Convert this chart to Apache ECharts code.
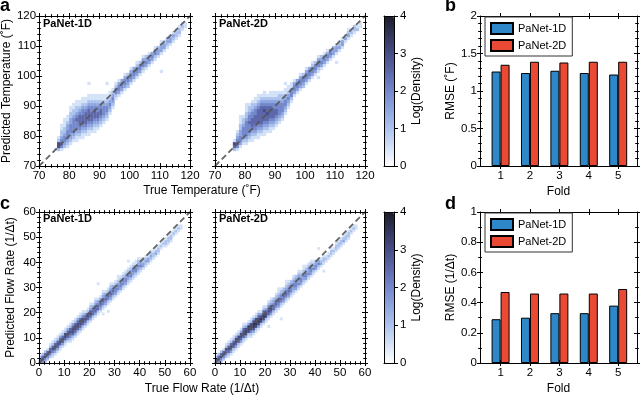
<!DOCTYPE html>
<html><head><meta charset="utf-8">
<script src="https://cdn.jsdelivr.net/npm/echarts@6/dist/echarts.min.js"></script>
<style>html,body{margin:0;padding:0;background:#fff}#c{width:640px;height:396px}</style>
</head><body><div id="c"></div>
<script>
// ---------- DATA ----------
// density cells: [x bin, first y bin, digits upward]; digit = 2*log10(density), 0 = empty
const tempCols1D = [
 [75,75,"1"],[76,75,"26621"],[77,75,"145432211"],[78,76,"2344322111"],[79,76,"12344433211"],
 [80,77,"1233444332211"],[81,78,"1234444432211"],[82,78,"11234445432211"],[83,79,"1234455543211"],
 [84,79,"11234555443211"],[85,80,"1234555543211"],[86,80,"11234555543211"],[87,81,"1234555443211"],
 [88,81,"1123455543211"],[89,82,"123455443211"],[90,83,"12345543211"],[91,84,"1234443211"],
 [92,85,"123443211"],[93,87,"12343211"],[94,89,"1234321"],[95,92,"124421"],[96,93,"134431"],
 [97,94,"13443"],[98,95,"134431"],[99,96,"23442"],[100,97,"134431"],[101,98,"13443"],[102,99,"134421"],
 [103,100,"13442"],[104,101,"124431"],[105,102,"13432"],[106,103,"13431"],[107,104,"1343"],
 [108,105,"12431"],[109,106,"1332"],[110,107,"13321"],[111,108,"1331"],[112,109,"1232"],
 [113,110,"1331"],[114,111,"1231"],[115,112,"1221"],[116,113,"1221"],[117,115,"121"],[118,116,"11"],
 [110,101,"1"],[86,97,"1"],[92,97,"1"],[102,104,"1"]
];
const tempCols2D = [
 [76,75,"2561"],[77,75,"1454321"],[78,76,"13443322111"],[79,77,"1234443221"],[80,77,"12344444322111"],
 [81,78,"1234445443221"],[82,78,"11234555443221"],[83,79,"12344555443211"],[84,79,"112345555543211"],
 [85,80,"12345555554321"],[86,80,"112345556543211"],[87,81,"1234556554321"],[88,81,"11234555543211"],
 [89,82,"1234555443211"],[90,83,"123455443211"],[91,84,"12344443221"],[92,85,"1234443221"],
 [93,87,"123443211"],[94,89,"12343211"],[95,91,"1244311"],[96,93,"134431"],[97,94,"13443"],
 [98,95,"134431"],[99,96,"23442"],[100,97,"134431"],[101,98,"13443"],[102,99,"134421"],
 [103,100,"13442"],[104,101,"124431"],[105,102,"13432"],[106,103,"13431"],[107,104,"13431"],
 [108,105,"1343"],[109,106,"1332"],[110,107,"1331"],[111,108,"1321"],[112,109,"1331"],[113,111,"131"],
 [114,112,"1321"],[115,113,"121"],[116,114,"122"],[117,115,"21"],[118,116,"11"],
 [110,104,"1"],[104,99,"1"],[86,94,"1"],[93,97,"1"],[107,108,"1"]
];
const flowCols1D = [
 [0,0,"552"],[1,0,"4652"],[2,0,"24652"],[3,1,"24651"],[4,2,"246521"],[5,2,"1246521"],[6,3,"1356521"],
 [7,4,"1356521"],[8,5,"1256531"],[9,6,"1356521"],[10,7,"1256621"],[11,8,"1356531"],[12,8,"12456521"],
 [13,9,"12566531"],[14,10,"13566521"],[15,11,"12566531"],[16,12,"13566521"],[17,13,"12566421"],
 [18,14,"1356531"],[19,15,"1256521"],[20,16,"13565321"],[21,17,"1255431"],[22,18,"13554321"],
 [23,19,"1255431"],[24,20,"1345431"],[25,21,"12454321"],[26,22,"1345431"],[27,23,"1245421"],
 [28,24,"13454321"],[29,25,"1245431"],[30,26,"1344321"],[31,27,"12443211"],[32,28,"1344321"],
 [33,29,"1244321"],[34,30,"1344321"],[35,31,"1234321"],[36,32,"1244321"],[37,33,"1234421"],
 [38,34,"1244311"],[39,35,"1234321"],[40,36,"124321"],[41,37,"13321"],[42,38,"12321"],[43,39,"1331"],
 [44,40,"12321"],[45,41,"1221"],[46,42,"1321"],[47,43,"1221"],[48,45,"121"],[49,46,"121"],
 [50,46,"1221"],[51,47,"1221"],[52,48,"1221"],[53,50,"121"],[54,51,"121"],[55,52,"121"],[56,53,"11"],
 [23,31,"1"],[25,19,"1"],[35,40,"1"],[27,20,"1"]
];
const flowCols2D = [
 [0,0,"562"],[1,0,"4652"],[2,0,"24652"],[3,1,"24651"],[4,2,"245621"],[5,2,"1256521"],[6,3,"1356521"],
 [7,4,"1256521"],[8,5,"1356631"],[9,6,"1256621"],[10,7,"1356631"],[11,8,"12566521"],[12,9,"1367631"],
 [13,10,"1267731"],[14,10,"12467621"],[15,11,"13677631"],[16,12,"12677621"],[17,13,"13677531"],
 [18,14,"1267631"],[19,15,"13676521"],[20,16,"1266531"],[21,17,"12565421"],[22,18,"13565321"],
 [23,19,"1255432"],[24,20,"12454321"],[25,21,"134543211"],[26,22,"12454321"],[27,23,"1345432"],
 [28,24,"124543211"],[29,25,"13454321"],[30,26,"1244432"],[31,27,"12344321"],[32,28,"1344432"],
 [33,29,"12434321"],[34,30,"1344321"],[35,31,"12343211"],[36,32,"1344321"],[37,33,"1243321"],
 [38,34,"1344321"],[39,35,"124321"],[40,36,"13432"],[41,37,"12431"],[42,38,"1321"],[43,39,"1221"],
 [44,40,"121"],[45,41,"121"],[46,42,"1221"],[47,43,"121"],[48,44,"1221"],[49,45,"1221"],[50,46,"1221"],
 [51,47,"1321"],[52,48,"1221"],[53,49,"1221"],[54,51,"121"],[55,52,"121"],[56,53,"11"],
 [26,17,"1"],[41,45,"1"],[43,36,"1"],[21,14,"1"]
];
const tempRange = [70, 120];
const flowRange = [0, 60];
const folds = [1, 2, 3, 4, 5];
const rmseTemp1D = [1.26, 1.24, 1.27, 1.24, 1.22];
const rmseTemp2D = [1.35, 1.39, 1.38, 1.39, 1.39];
const rmseFlow1D = [0.29, 0.30, 0.33, 0.33, 0.38];
const rmseFlow2D = [0.47, 0.46, 0.46, 0.46, 0.49];
const seriesNames = ['PaNet-1D', 'PaNet-2D'];

// ---------- BUILD ----------
const F = '"Liberation Sans", Arial, Helvetica, sans-serif';
function cells(cols) {
  const out = [];
  for (const [x, y0, s] of cols) for (let i = 0; i < s.length; i++) {
    const d = +s[i]; if (d > 0) out.push([x + 0.5, y0 + i + 0.5, d / 2]);
  }
  return out;
}
const grids = [], xAxes = [], yAxes = [];
function axis(g, c, pos, inside, line, isX) {
  const labelPos = c.labelPos === undefined ? (isX ? 'bottom' : 'left') : c.labelPos;
  const showLabel = !inside && pos === labelPos;
  const a = {
    type: 'value', gridIndex: g, position: pos, min: c.min, max: c.max, z: 10,
    splitLine: {show: false},
    axisLine: {show: line, onZero: false, lineStyle: {color: '#000', width: 1}},
    axisTick: {show: true, inside: inside, length: 3, lineStyle: {color: '#000', width: 1}},
    minorTick: {show: !!c.minor, splitNumber: c.minor || 5, length: 1.8, lineStyle: {color: '#000', width: 1}},
    axisLabel: {show: showLabel, color: '#000', fontFamily: F, fontSize: 11.5, margin: isX ? 4 : 3},
  };
  if (c.interval !== undefined) a.interval = c.interval;
  if (c.custom) { a.axisTick.customValues = c.custom; a.axisLabel.customValues = c.custom; }
  if (showLabel && c.name) {
    a.name = c.name; a.nameLocation = 'middle'; a.nameGap = c.nameGap;
    a.nameTextStyle = {fontFamily: F, fontSize: 12, color: '#000'};
  }
  return a;
}
function box(rect, xc, yc) {
  const g = grids.length;
  grids.push({left: rect[0], top: rect[1], width: rect[2], height: rect[3]});
  const xi = xAxes.length, yi = yAxes.length;
  const specs = [[0, false, true], [0, true, false], [1, false, true], [1, true, false]];
  for (const [side, inside, line] of specs) {
    xAxes.push(axis(g, xc, side ? 'top' : 'bottom', inside, line, true));
    yAxes.push(axis(g, yc, side ? 'right' : 'left', inside, line, false));
  }
  return {x: xi, y: yi};
}
const tX = {min: tempRange[0], max: tempRange[1], interval: 10, minor: 5};
const fX = {min: flowRange[0], max: flowRange[1], interval: 10, minor: 5};
const A1 = box([39, 16, 151, 150], tX, Object.assign({}, tX, {name: 'Predicted Temperature (˚F)', nameGap: 21}));
const A2 = box([215, 16, 150, 150], tX, Object.assign({}, tX, {labelPos: 'none'}));
const B = box([480, 16, 157, 150], {min: 0.3, max: 5.64, custom: folds, name: 'Fold', nameGap: 20},
  {min: 0, max: 2, interval: 0.5, minor: 5, name: 'RMSE (˚F)', nameGap: 23});
const C1 = box([39, 212, 151, 151], fX, Object.assign({}, fX, {name: 'Predicted Flow Rate (1/Δt)', nameGap: 22}));
const C2 = box([215, 212, 150, 151], fX, Object.assign({}, fX, {labelPos: 'none'}));
const D = box([480, 212, 157, 151], {min: 0.3, max: 5.64, custom: folds, name: 'Fold', nameGap: 20},
  {min: 0, max: 1, interval: 0.2, minor: 2, name: 'RMSE (1/Δt)', nameGap: 22});

// colorbars
function colorbar(top, h) {
  const g = grids.length;
  grids.push({left: 384, top: top, width: 10, height: h});
  for (const pos of ['bottom', 'top']) xAxes.push({type: 'value', gridIndex: g, position: pos, min: 0, max: 1, z: 10,
    splitLine: {show: false}, axisTick: {show: false}, axisLabel: {show: false},
    axisLine: {show: true, onZero: false, lineStyle: {color: '#000', width: 1}}});
  yAxes.push({type: 'value', gridIndex: g, position: 'left', min: 0, max: 4, interval: 1, z: 10,
    splitLine: {show: false}, axisTick: {show: false}, axisLabel: {show: false},
    axisLine: {show: true, onZero: false, lineStyle: {color: '#000', width: 1}}});
  yAxes.push({type: 'value', gridIndex: g, position: 'right', min: 0, max: 4, interval: 1, z: 10,
    splitLine: {show: false}, axisTick: {show: true, length: 4, lineStyle: {color: '#000'}},
    axisLabel: {show: true, margin: 6, color: '#000', fontFamily: F, fontSize: 11.5},
    axisLine: {show: true, onZero: false, lineStyle: {color: '#000', width: 1}},
    name: 'Log(Density)', nameLocation: 'middle', nameGap: 17,
    nameTextStyle: {fontFamily: F, fontSize: 12, color: '#000'}});
}
colorbar(16, 150);
colorbar(212, 151);

const cmap = ['#ffffff', '#d4e2f7', '#adc3ed', '#8ea6e0', '#7488cb', '#5d68aa', '#474d86', '#32355b', '#1c1c26'];
const heat = (P, cols, size) => ({type: 'scatter', xAxisIndex: P.x, yAxisIndex: P.y, symbol: 'rect',
  symbolSize: size, data: cells(cols), silent: true, z: 2, itemStyle: {opacity: 1}});
const diag = (P, r) => ({type: 'line', xAxisIndex: P.x, yAxisIndex: P.y, data: [[r[0], r[0]], [r[1], r[1]]],
  symbol: 'none', silent: true, z: 3, lineStyle: {color: '#555', width: 1.8, type: [6, 3.5], opacity: 0.9}});
const colors = ['#2d87c8', '#ea4a33'];
const bar = (P, name, vals, ci) => ({type: 'bar', name: name, xAxisIndex: P.x, yAxisIndex: P.y,
  data: folds.map((f, i) => [f, vals[i]]), barWidth: 9, barGap: '0%', silent: true, z: 2,
  itemStyle: {color: colors[ci], borderColor: '#000', borderWidth: 1}});

const series = [
  heat(A1, tempCols1D, 3.3), heat(A2, tempCols2D, 3.3), heat(C1, flowCols1D, 2.8), heat(C2, flowCols2D, 2.8),
  diag(A1, tempRange), diag(A2, tempRange), diag(C1, flowRange), diag(C2, flowRange),
  bar(B, seriesNames[0], rmseTemp1D, 0), bar(B, seriesNames[1], rmseTemp2D, 1),
  bar(D, seriesNames[0], rmseFlow1D, 0), bar(D, seriesNames[1], rmseFlow2D, 1)
];
const vm = (idx, top, h) => ({type: 'continuous', min: 0, max: 4, dimension: 2, seriesIndex: idx,
  left: 384, top: top, itemWidth: 10, itemHeight: h, padding: 0, calculable: false, hoverLink: false,
  inRange: {color: cmap}, z: 1});
const leg = (top) => ({data: seriesNames, orient: 'vertical', left: 485, top: top, padding: [5, 6, 4, 5],
  itemGap: 4, itemWidth: 22, itemHeight: 11, itemTextGap: 6, borderColor: '#333', borderWidth: 1,
  backgroundColor: '#fff', icon: 'rect', selectedMode: false, z: 20,
  textStyle: {fontFamily: F, fontSize: 11, color: '#000'}});
const txt = (t, x, y, font, extra) => ({type: 'text', x: x, y: y, silent: true, z: 30,
  style: Object.assign({text: t, font: font, fill: '#000'}, extra || {})});
const option = {
  animation: false,
  grid: grids, xAxis: xAxes, yAxis: yAxes, series: series,
  visualMap: [vm([0, 1], 16, 150), vm([2, 3], 212, 151)],
  legend: [leg(17), leg(213)],
  graphic: [
    txt('a', 0, -3, 'bold 18px ' + F), txt('b', 445, -3, 'bold 18px ' + F),
    txt('c', 0, 195, 'bold 18px ' + F), txt('d', 445, 195, 'bold 18px ' + F),
    txt('PaNet-1D', 43, 18, 'bold 11px ' + F), txt('PaNet-2D', 219, 18, 'bold 11px ' + F),
    txt('PaNet-1D', 43, 213, 'bold 11px ' + F), txt('PaNet-2D', 219, 213, 'bold 11px ' + F),
    txt('True Temperature (˚F)', 202, 191, '12px ' + F, {align: 'center', verticalAlign: 'middle'}),
    txt('True Flow Rate (1/Δt)', 202, 389, '12px ' + F, {align: 'center', verticalAlign: 'middle'})
  ]
};
const chart = echarts.init(document.getElementById('c'), null, {renderer: 'canvas'});
chart.setOption(option);
</script></body></html>
